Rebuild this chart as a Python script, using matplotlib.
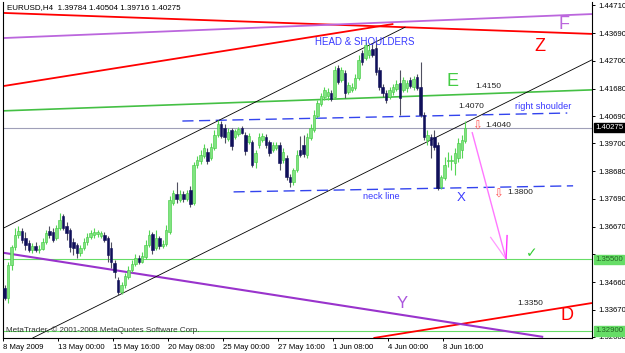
import numpy as np
import matplotlib
matplotlib.use("Agg")
import matplotlib.pyplot as plt

plt.rcParams['font.family'] = ['Liberation Sans', 'DejaVu Sans']

# EURUSD H4 candles (bar index 0 = 8 May 2009)
opens = [1.3446, 1.3409, 1.3529, 1.3594, 1.3638, 1.3652, 1.3627, 1.3609, 1.3583, 1.3598,
         1.3583, 1.3587, 1.3612, 1.3652, 1.3649, 1.3627, 1.3663, 1.3707, 1.3670, 1.3656,
         1.3612, 1.3601, 1.3572, 1.3591, 1.3612, 1.3630, 1.3638, 1.3641, 1.3634, 1.3638,
         1.3627, 1.3591, 1.3536, 1.3475, 1.3431, 1.3456, 1.3485, 1.3511, 1.3532, 1.3554,
         1.3540, 1.3558, 1.3601, 1.3641, 1.3591, 1.3627, 1.3598, 1.3605, 1.3649, 1.3754,
         1.3786, 1.3765, 1.3786, 1.3768, 1.3801, 1.3754, 1.3891, 1.3906, 1.3924, 1.3939,
         1.3917, 1.3953, 1.4000, 1.4040, 1.4026, 1.3986, 1.4019, 1.3993, 1.4004, 1.4026,
         1.4000, 1.3975, 1.3975, 1.3902, 1.3964, 1.3982, 1.3993, 1.3975, 1.3946, 1.3953,
         1.3964, 1.3910, 1.3917, 1.3848, 1.3830, 1.3873, 1.3946, 1.3964, 1.3928, 1.3989,
         1.4019, 1.4069, 1.4113, 1.4138, 1.4142, 1.4153, 1.4138, 1.4244, 1.4200, 1.4225,
         1.4157, 1.4164, 1.4171, 1.4207, 1.4298, 1.4280, 1.4291, 1.4312, 1.4316, 1.4236,
         1.4175, 1.4153, 1.4138, 1.4157, 1.4167, 1.4189, 1.4164, 1.4171, 1.4200, 1.4175,
         1.4211, 1.4175, 1.4073, 1.3982, 1.3993, 1.3993, 1.3964, 1.3812, 1.3844, 1.3906,
         1.3906, 1.3899, 1.3917, 1.3946, 1.39784]
highs = [1.3456, 1.3540, 1.3601, 1.3663, 1.3670, 1.3663, 1.3649, 1.3620, 1.3609, 1.3612,
         1.3601, 1.3627, 1.3656, 1.3670, 1.3663, 1.3674, 1.3717, 1.3714, 1.3685, 1.3663,
         1.3627, 1.3609, 1.3601, 1.3627, 1.3645, 1.3656, 1.3663, 1.3656, 1.3652, 1.3649,
         1.3634, 1.3612, 1.3547, 1.3485, 1.3467, 1.3500, 1.3525, 1.3547, 1.3569, 1.3565,
         1.3576, 1.3620, 1.3656, 1.3649, 1.3656, 1.3634, 1.3620, 1.3674, 1.3779, 1.3801,
         1.3830, 1.3801, 1.3797, 1.3801, 1.3815, 1.3902, 1.3924, 1.3946, 1.3968, 1.3953,
         1.3971, 1.4019, 1.4055, 1.4051, 1.4040, 1.4026, 1.4026, 1.4022, 1.4029, 1.4033,
         1.4011, 1.4008, 1.3982, 1.3946, 1.4008, 1.4008, 1.4004, 1.3982, 1.3975, 1.3975,
         1.3975, 1.3953, 1.3928, 1.3859, 1.3881, 1.3946, 1.3997, 1.4000, 1.4008, 1.4040,
         1.4091, 1.4128, 1.4153, 1.4175, 1.4171, 1.4164, 1.4251, 1.4254, 1.4247, 1.4236,
         1.4193, 1.4189, 1.4222, 1.4291, 1.4309, 1.4338, 1.4327, 1.4331, 1.4338, 1.4247,
         1.4186, 1.4164, 1.4175, 1.4186, 1.4200, 1.4236, 1.4211, 1.4200, 1.4211, 1.4215,
         1.4222, 1.4265, 1.4084, 1.4019, 1.4004, 1.4019, 1.3975, 1.3855, 1.3921, 1.3939,
         1.3928, 1.3953, 1.3989, 1.4000, 1.40504]
lows = [1.3402, 1.3391, 1.3511, 1.3583, 1.3627, 1.3609, 1.3583, 1.3576, 1.3572, 1.3576,
        1.3572, 1.3583, 1.3605, 1.3627, 1.3612, 1.3620, 1.3656, 1.3656, 1.3620, 1.3576,
        1.3565, 1.3554, 1.3561, 1.3583, 1.3601, 1.3623, 1.3627, 1.3630, 1.3627, 1.3612,
        1.3540, 1.3518, 1.3482, 1.3420, 1.3424, 1.3446, 1.3478, 1.3503, 1.3525, 1.3532,
        1.3536, 1.3551, 1.3594, 1.3569, 1.3583, 1.3587, 1.3591, 1.3598, 1.3641, 1.3746,
        1.3754, 1.3757, 1.3757, 1.3761, 1.3739, 1.3746, 1.3881, 1.3895, 1.3917, 1.3895,
        1.3910, 1.3946, 1.3993, 1.3989, 1.3971, 1.3979, 1.3946, 1.3986, 1.3997, 1.4004,
        1.3928, 1.3968, 1.3884, 1.3881, 1.3953, 1.3975, 1.3953, 1.3924, 1.3939, 1.3946,
        1.3873, 1.3899, 1.3837, 1.3812, 1.3819, 1.3866, 1.3921, 1.3921, 1.3917, 1.3982,
        1.4011, 1.4062, 1.4106, 1.4128, 1.4128, 1.4124, 1.4131, 1.4186, 1.4193, 1.4135,
        1.4149, 1.4157, 1.4164, 1.4200, 1.4254, 1.4273, 1.4280, 1.4283, 1.4218, 1.4164,
        1.4138, 1.4117, 1.4131, 1.4146, 1.4160, 1.4073, 1.4157, 1.4157, 1.4171, 1.4164,
        1.4164, 1.4066, 1.3982, 1.3964, 1.3917, 1.3946, 1.3801, 1.3805, 1.3837, 1.3884,
        1.3873, 1.3855, 1.3902, 1.3917, 1.39716]
closes = [1.3409, 1.3529, 1.3594, 1.3638, 1.3652, 1.3620, 1.3601, 1.3583, 1.3598, 1.3583,
          1.3587, 1.3612, 1.3645, 1.3638, 1.3620, 1.3663, 1.3692, 1.3663, 1.3645, 1.3594,
          1.3591, 1.3572, 1.3591, 1.3612, 1.3630, 1.3645, 1.3649, 1.3649, 1.3645, 1.3620,
          1.3565, 1.3540, 1.3503, 1.3431, 1.3456, 1.3489, 1.3511, 1.3532, 1.3554, 1.3540,
          1.3561, 1.3601, 1.3638, 1.3583, 1.3627, 1.3598, 1.3605, 1.3656, 1.3765, 1.3790,
          1.3768, 1.3786, 1.3768, 1.3790, 1.3750, 1.3891, 1.3910, 1.3928, 1.3953, 1.3906,
          1.3957, 1.4000, 1.4040, 1.3997, 1.3993, 1.4011, 1.3960, 1.4015, 1.4022, 1.4008,
          1.3942, 1.3997, 1.3891, 1.3935, 1.3993, 1.3997, 1.3964, 1.3935, 1.3964, 1.3964,
          1.3899, 1.3939, 1.3848, 1.3830, 1.3873, 1.3928, 1.3928, 1.3931, 1.3993, 1.4026,
          1.4073, 1.4117, 1.4142, 1.4164, 1.4157, 1.4131, 1.4236, 1.4193, 1.4236, 1.4153,
          1.4182, 1.4175, 1.4207, 1.4273, 1.4265, 1.4327, 1.4309, 1.4291, 1.4229, 1.4175,
          1.4153, 1.4128, 1.4164, 1.4175, 1.4186, 1.4135, 1.4200, 1.4189, 1.4178, 1.4204,
          1.4171, 1.4073, 1.3993, 1.4000, 1.3964, 1.3957, 1.3808, 1.3848, 1.3891, 1.3910,
          1.3910, 1.3935, 1.3971, 1.3982, 1.40275]

tick_bars = [0, 16, 32, 48, 64, 80, 96, 112, 128]
tick_labels = ['8 May 2009', '13 May 00:00', '15 May 16:00', '20 May 08:00', '25 May 00:00',
               '27 May 16:00', '1 Jun 08:00', '4 Jun 00:00', '8 Jun 16:00']
price_ticks = [1.4471, 1.4369, 1.4270, 1.4168, 1.4069, 1.3970, 1.3868, 1.3769,
               1.3667, 1.3568, 1.3466, 1.3367, 1.3268]

# trend lines: (bar, price) endpoints
channel_top = [(-0.3, 1.3663), (116.6, 1.4392)]
channel_bottom = [(8.1, 1.3264), (170.9, 1.4273)]
line_z = [(-0.3, 1.4443), (170.9, 1.4367)]
line_red_up = [(-0.3, 1.4178), (113.1, 1.4403)]
line_d = [(107.3, 1.3264), (170.9, 1.3391)]
line_f = [(-0.3, 1.4352), (170.9, 1.4439)]
line_y = [(-0.3, 1.3573), (156.7, 1.3268)]
line_e = [(-0.3, 1.4088), (170.9, 1.4164)]
right_shoulder = [(51.7, 1.4051), (163.7, 1.4080)]
neck_line = [(66.6, 1.3794), (165.4, 1.3816)]
target_arrow = [(136.0, 1.4011), (145.9, 1.3550)]
arrow_wing_l = [(141.3, 1.3631), (145.9, 1.3550)]
arrow_wing_r = [(146.2, 1.3638), (145.9, 1.3550)]
bid = 1.40275
target_level = 1.3550
low_level = 1.3290

fig = plt.figure(figsize=(6.25, 3.53), dpi=100)
ax = fig.add_axes([3 / 625, 1 - 338 / 353, 589 / 625, 336 / 353])
ax.set_xlim(-0.3, 170.9)
ax.set_ylim(1.32641, 1.44827)

def seg(pts, **kw):
    xs, ys = zip(*pts)
    ax.plot(xs, ys, solid_capstyle='butt', **kw)

# horizontal levels
ax.axhline(bid, color='#a0a0b8', lw=0.8, zorder=1)
ax.axhline(target_level, color='#66dd66', lw=0.8, zorder=1)
ax.axhline(low_level, color='#66dd66', lw=0.8, zorder=1)

seg(line_z, color='#ff0000', lw=1.3, zorder=2)
seg(line_red_up, color='#ff0000', lw=1.3, zorder=2)
seg(line_d, color='#ff0000', lw=1.3, zorder=2)
seg(line_f, color='#bb66dd', lw=1.3, zorder=2)
seg(line_y, color='#9933cc', lw=1.5, zorder=2)
seg(line_e, color='#44c044', lw=1.2, zorder=2)
seg(channel_top, color='black', lw=0.6, zorder=4)
seg(channel_bottom, color='black', lw=0.6, zorder=4)
seg(right_shoulder, color='#3344ee', lw=1.0, dashes=(8, 4), zorder=2)
seg(neck_line, color='#3344ee', lw=1.0, dashes=(8, 4), zorder=2)
seg(target_arrow, color='#ff77ff', lw=1.0, zorder=3)
seg(arrow_wing_l, color='#ff99ff', lw=0.9, zorder=3)
seg(arrow_wing_r, color='#ff33ff', lw=1.0, zorder=3)

# candles
o = np.array(opens)
h = np.array(highs)
l = np.array(lows)
c = np.array(closes)
x = np.arange(len(c))
bull = c >= o
ax.vlines(x[bull], l[bull], h[bull], color='#55d655', lw=0.8, zorder=5)
ax.vlines(x[~bull], l[~bull], h[~bull], color='#505060', lw=0.8, zorder=5)
body_lo = np.minimum(o, c)
body_h = np.maximum(np.abs(c - o), 0.00012)
ax.bar(x[bull], body_h[bull], bottom=body_lo[bull], width=0.72,
       color='#80e480', edgecolor='#3cc83c', lw=0.4, zorder=6)
ax.bar(x[~bull], body_h[~bull], bottom=body_lo[~bull], width=0.72,
       color='#10105a', edgecolor='#10105a', lw=0.4, zorder=6)

# annotations
blue = '#3a3aff'
ax.text(90.4, 1.4338, 'HEAD & SHOULDERS', color=blue, fontsize=7, va='center', zorder=7)
ax.text(148.5, 1.4102, 'right shoulder', color=blue, fontsize=6.7, va='center')
ax.text(104.4, 1.3776, 'neck line', color=blue, fontsize=6.7, va='center')
ax.text(132.8, 1.3772, 'X', color=blue, fontsize=9.5, ha='center', va='center')
ax.text(130.2, 1.4193, 'E', color='#44cc44', fontsize=13, ha='center', va='center')
ax.text(162.8, 1.4400, 'F', color='#bb66dd', fontsize=13, ha='center', va='center')
ax.text(155.8, 1.4320, 'Z', color='#ff0000', fontsize=13, ha='center', va='center')
ax.text(115.7, 1.3391, 'Y', color='#aa55dd', fontsize=12, ha='center', va='center')
ax.text(163.7, 1.3344, 'D', color='#ff0000', fontsize=13, ha='center', va='center')
for bx, py, s in [(136.9, 1.4175, '1.4150'), (132.0, 1.4102, '1.4070'),
                  (139.8, 1.4033, '1.4040'), (146.2, 1.3790, '1.3800'),
                  (149.1, 1.3388, '1.3350')]:
    ax.text(bx, py, s, color='#202020', fontsize=6, va='center')
ax.text(137.5, 1.4033, '⇩', color='#ff5050', fontsize=8.5, ha='center', va='center',
        family=['DejaVu Sans'])
ax.text(143.6, 1.3787, '⇩', color='#ff5050', fontsize=8.5, ha='center', va='center',
        family=['DejaVu Sans'])
ax.text(153.5, 1.3573, '✓', color='#33cc33', fontsize=10, ha='center', va='center',
        family=['DejaVu Sans'])

fig.text(7 / 625, 1 - 8 / 353, 'EURUSD,H4  1.39784 1.40504 1.39716 1.40275',
         fontsize=5.8, va='center', color='black')
fig.text(6 / 625, 1 - 330 / 353, 'MetaTrader, © 2001-2008 MetaQuotes Software Corp.',
         fontsize=5.8, va='center', color='#303030')

# axes styling
ax.spines['top'].set_visible(False)
for s in ['left', 'bottom', 'right']:
    ax.spines[s].set_linewidth(0.8)
ax.yaxis.tick_right()
ax.set_yticks(price_ticks)
# the 1.35680 label sits under the green level box, as in the terminal
ax.set_yticklabels(['' if p == 1.3568 else '%.5f' % p for p in price_ticks])
ax.tick_params(axis='y', length=2.5, width=0.7, pad=2, labelsize=5.6)
ax.set_xticks(np.array(tick_bars) - 0.5)
ax.set_xticklabels(tick_labels)
ax.tick_params(axis='x', length=2.5, width=0.7, pad=2, labelsize=5.6)
for lbl in ax.get_xticklabels():
    lbl.set_ha('left')

# price boxes on the right scale
ax.text(1.006, bid, '%.5f' % bid, transform=ax.get_yaxis_transform(), fontsize=5.6,
        color='white', va='center', ha='left',
        bbox=dict(boxstyle='square,pad=0.15', fc='black', ec='black'))
for lvl in [target_level, low_level]:
    ax.text(1.006, lvl, '%.5f' % lvl, transform=ax.get_yaxis_transform(), fontsize=5.6,
            color='#226622', va='center', ha='left',
            bbox=dict(boxstyle='square,pad=0.15', fc='#66dd66', ec='#66dd66'))

fig.savefig('out.png', dpi=100)
